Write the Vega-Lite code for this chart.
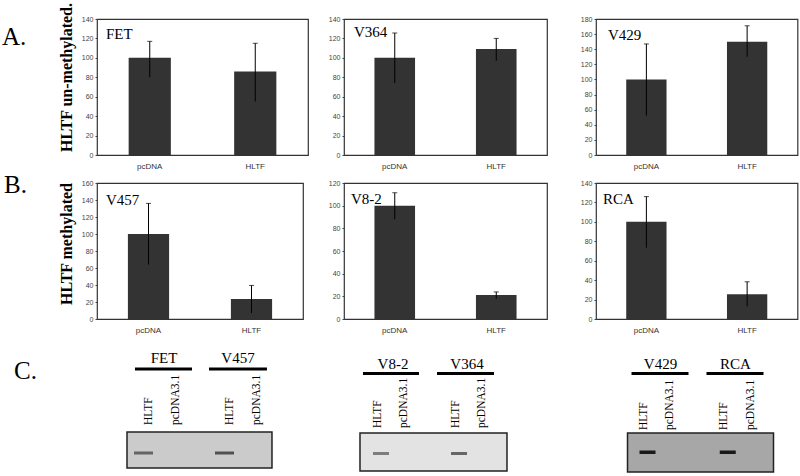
{
  "$schema": "https://vega.github.io/schema/vega-lite/v6.json",
  "padding": {"left": 0, "top": 1, "right": 0, "bottom": 0},
  "background": "white",
  "config": {
    "view": {"stroke": "#333", "strokeWidth": 1.2},
    "font": "Liberation Sans",
    "axis": {"labelOverlap": false}
  },
  "datasets": {
    "bars": [
      {"cell": "FET", "construct": "pcDNA", "mean": 100, "lo": 80, "hi": 117},
      {"cell": "FET", "construct": "HLTF", "mean": 86, "lo": 55, "hi": 115},
      {"cell": "V364", "construct": "pcDNA", "mean": 100, "lo": 74, "hi": 125.6},
      {"cell": "V364", "construct": "HLTF", "mean": 109, "lo": 97, "hi": 120},
      {"cell": "V429", "construct": "pcDNA", "mean": 100, "lo": 52, "hi": 147},
      {"cell": "V429", "construct": "HLTF", "mean": 150, "lo": 130, "hi": 171},
      {"cell": "V457", "construct": "pcDNA", "mean": 100, "lo": 64, "hi": 136},
      {"cell": "V457", "construct": "HLTF", "mean": 23.6, "lo": 7, "hi": 39.5},
      {"cell": "V8-2", "construct": "pcDNA", "mean": 100, "lo": 88, "hi": 111.4},
      {"cell": "V8-2", "construct": "HLTF", "mean": 21.2, "lo": 17.7, "hi": 23.9},
      {"cell": "RCA", "construct": "pcDNA", "mean": 100, "lo": 73.4, "hi": 126},
      {"cell": "RCA", "construct": "HLTF", "mean": 25.5, "lo": 13, "hi": 38.3}
    ],
    "blank": [{}],
    "blots": [{"blot": 1}, {"blot": 2}, {"blot": 3}],
    "lanes": [
      {"blot": 1, "lane": 1, "construct": "HLTF", "intensity": 0.5},
      {"blot": 1, "lane": 2, "construct": "pcDNA3.1", "intensity": 0},
      {"blot": 1, "lane": 4, "construct": "HLTF", "intensity": 0.6},
      {"blot": 1, "lane": 5, "construct": "pcDNA3.1", "intensity": 0},
      {"blot": 2, "lane": 1, "construct": "HLTF", "intensity": 0.45},
      {"blot": 2, "lane": 2, "construct": "pcDNA3.1", "intensity": 0},
      {"blot": 2, "lane": 4, "construct": "HLTF", "intensity": 0.55},
      {"blot": 2, "lane": 5, "construct": "pcDNA3.1", "intensity": 0},
      {"blot": 3, "lane": 1, "construct": "HLTF", "intensity": 0.85},
      {"blot": 3, "lane": 2, "construct": "pcDNA3.1", "intensity": 0},
      {"blot": 3, "lane": 4, "construct": "HLTF", "intensity": 0.85},
      {"blot": 3, "lane": 5, "construct": "pcDNA3.1", "intensity": 0}
    ],
    "cells": [
      {"blot": 1, "cell": "FET", "start": 0.481, "end": 2.593},
      {"blot": 1, "cell": "V457", "start": 3.222, "end": 5.37},
      {"blot": 2, "cell": "V8-2", "start": 0.423, "end": 2.577},
      {"blot": 2, "cell": "V364", "start": 3.27, "end": 5.462},
      {"blot": 3, "cell": "V429", "start": 0.552, "end": 2.682},
      {"blot": 3, "cell": "RCA", "start": 3.355, "end": 5.486}
    ]
  },
  "columns": 6,
  "bounds": "flush",
  "spacing": {"row": 28, "column": 0},
  "concat": [
    {
      "width": 97, "height": 136, "view": {"stroke": null},
      "title": {"text": "A.", "anchor": "start", "frame": "group", "offset": -50.5, "dx": 2, "baseline": "alphabetic", "font": "Liberation Serif", "fontSize": 25, "fontWeight": "normal", "color": "#000"},
      "data": {"name": "blank"}, "mark": {"type": "text", "text": ""}
    },
    {
      "width": 211, "height": 136,
      "title": {"text": "FET", "anchor": "start", "frame": "group", "offset": -51.5, "dx": 9, "baseline": "alphabetic", "font": "Liberation Serif", "fontSize": 15, "fontWeight": "normal", "color": "#000"},
      "data": {"name": "bars"},
      "transform": [{"filter": "datum.cell === 'FET'"}],
      "encoding": {"x": {"field": "construct", "type": "nominal", "sort": ["pcDNA", "HLTF"], "scale": {"paddingInner": 0.6, "paddingOuter": 0.3}, "axis": {"title": null, "labelAngle": 0, "ticks": false, "domain": false, "labelPadding": 7, "labelFontSize": 8, "labelColor": "#333", "labelFont": "Liberation Sans"}}},
      "layer": [
        {"mark": {"type": "bar", "color": "#333"}, "encoding": {"y": {"field": "mean", "type": "quantitative", "title": "HLTF un-methylated.", "scale": {"domain": [0, 140], "nice": false}, "axis": {"grid": false, "domain": false, "values": [0, 20, 40, 60, 80, 100, 120, 140], "tickCount": 20, "labelOverlap": false, "tickSize": 2, "tickColor": "#444", "labelPadding": 2, "labelFontSize": 7, "labelColor": "#444", "labelFont": "Liberation Sans", "minExtent": 16, "maxExtent": 16, "titlePadding": 6.5, "titleFont": "Liberation Serif", "titleFontSize": 16, "titleFontWeight": "bold", "titleColor": "#000", "titleY": 58}}}},
        {"mark": {"type": "rule", "color": "#000", "strokeWidth": 1}, "encoding": {"y": {"field": "lo", "type": "quantitative", "title": "HLTF un-methylated."}, "y2": {"field": "hi"}}},
        {"mark": {"type": "tick", "color": "#000", "thickness": 1, "size": 5}, "encoding": {"y": {"field": "hi", "type": "quantitative", "title": "HLTF un-methylated."}}}
      ]
    },
    {"width": 36, "height": 136, "view": {"stroke": null}, "data": {"name": "blank"}, "mark": {"type": "text", "text": ""}},
    {
      "width": 203, "height": 136,
      "title": {"text": "V364", "anchor": "start", "frame": "group", "offset": -37, "dx": 10, "baseline": "alphabetic", "font": "Liberation Serif", "fontSize": 15, "fontWeight": "normal", "color": "#000"},
      "data": {"name": "bars"},
      "transform": [{"filter": "datum.cell === 'V364'"}],
      "encoding": {"x": {"field": "construct", "type": "nominal", "sort": ["pcDNA", "HLTF"], "scale": {"paddingInner": 0.6, "paddingOuter": 0.3}, "axis": {"title": null, "labelAngle": 0, "ticks": false, "domain": false, "labelPadding": 7, "labelFontSize": 8, "labelColor": "#333", "labelFont": "Liberation Sans"}}},
      "layer": [
        {"mark": {"type": "bar", "color": "#333"}, "encoding": {"y": {"field": "mean", "type": "quantitative", "title": null, "scale": {"domain": [0, 140], "nice": false}, "axis": {"grid": false, "domain": false, "values": [0, 20, 40, 60, 80, 100, 120, 140], "tickCount": 20, "labelOverlap": false, "tickSize": 2, "tickColor": "#444", "labelPadding": 2, "labelFontSize": 7, "labelColor": "#444", "labelFont": "Liberation Sans"}}}},
        {"mark": {"type": "rule", "color": "#000", "strokeWidth": 1}, "encoding": {"y": {"field": "lo", "type": "quantitative", "title": null}, "y2": {"field": "hi"}}},
        {"mark": {"type": "tick", "color": "#000", "thickness": 1, "size": 5}, "encoding": {"y": {"field": "hi", "type": "quantitative", "title": null}}}
      ]
    },
    {"width": 48.5, "height": 136, "view": {"stroke": null}, "data": {"name": "blank"}, "mark": {"type": "text", "text": ""}},
    {
      "width": 201.5, "height": 136,
      "title": {"text": "V429", "anchor": "start", "frame": "group", "offset": -40, "dx": 12, "baseline": "alphabetic", "font": "Liberation Serif", "fontSize": 15, "fontWeight": "normal", "color": "#000"},
      "data": {"name": "bars"},
      "transform": [{"filter": "datum.cell === 'V429'"}],
      "encoding": {"x": {"field": "construct", "type": "nominal", "sort": ["pcDNA", "HLTF"], "scale": {"paddingInner": 0.6, "paddingOuter": 0.3}, "axis": {"title": null, "labelAngle": 0, "ticks": false, "domain": false, "labelPadding": 7, "labelFontSize": 8, "labelColor": "#333", "labelFont": "Liberation Sans"}}},
      "layer": [
        {"mark": {"type": "bar", "color": "#333"}, "encoding": {"y": {"field": "mean", "type": "quantitative", "title": null, "scale": {"domain": [0, 180], "nice": false}, "axis": {"grid": false, "domain": false, "values": [0, 20, 40, 60, 80, 100, 120, 140, 160, 180], "tickCount": 20, "labelOverlap": false, "tickSize": 2, "tickColor": "#444", "labelPadding": 2, "labelFontSize": 7, "labelColor": "#444", "labelFont": "Liberation Sans"}}}},
        {"mark": {"type": "rule", "color": "#000", "strokeWidth": 1}, "encoding": {"y": {"field": "lo", "type": "quantitative", "title": null}, "y2": {"field": "hi"}}},
        {"mark": {"type": "tick", "color": "#000", "thickness": 1, "size": 5}, "encoding": {"y": {"field": "hi", "type": "quantitative", "title": null}}}
      ]
    },
    {
      "width": 97, "height": 136, "view": {"stroke": null},
      "title": {"text": "B.", "anchor": "start", "frame": "group", "offset": -35, "dx": 4, "baseline": "alphabetic", "font": "Liberation Serif", "fontSize": 25, "fontWeight": "normal", "color": "#000"},
      "data": {"name": "blank"}, "mark": {"type": "text", "text": ""}
    },
    {
      "width": 206, "height": 136,
      "title": {"text": "V457", "anchor": "start", "frame": "group", "offset": -40.5, "dx": 9, "baseline": "alphabetic", "font": "Liberation Serif", "fontSize": 15, "fontWeight": "normal", "color": "#000"},
      "data": {"name": "bars"},
      "transform": [{"filter": "datum.cell === 'V457'"}],
      "encoding": {"x": {"field": "construct", "type": "nominal", "sort": ["pcDNA", "HLTF"], "scale": {"paddingInner": 0.6, "paddingOuter": 0.3}, "axis": {"title": null, "labelAngle": 0, "ticks": false, "domain": false, "labelPadding": 7, "labelFontSize": 8, "labelColor": "#333", "labelFont": "Liberation Sans"}}},
      "layer": [
        {"mark": {"type": "bar", "color": "#333"}, "encoding": {"y": {"field": "mean", "type": "quantitative", "title": "HLTF methylated", "scale": {"domain": [0, 160], "nice": false}, "axis": {"grid": false, "domain": false, "values": [0, 20, 40, 60, 80, 100, 120, 140, 160], "tickCount": 20, "labelOverlap": false, "tickSize": 2, "tickColor": "#444", "labelPadding": 2, "labelFontSize": 7, "labelColor": "#444", "labelFont": "Liberation Sans", "minExtent": 16, "maxExtent": 16, "titlePadding": 6.5, "titleFont": "Liberation Serif", "titleFontSize": 16, "titleFontWeight": "bold", "titleColor": "#000", "titleY": 60.5}}}},
        {"mark": {"type": "rule", "color": "#000", "strokeWidth": 1}, "encoding": {"y": {"field": "lo", "type": "quantitative", "title": "HLTF methylated"}, "y2": {"field": "hi"}}},
        {"mark": {"type": "tick", "color": "#000", "thickness": 1, "size": 5}, "encoding": {"y": {"field": "hi", "type": "quantitative", "title": "HLTF methylated"}}}
      ]
    },
    {"width": 36, "height": 136, "view": {"stroke": null}, "data": {"name": "blank"}, "mark": {"type": "text", "text": ""}},
    {
      "width": 203, "height": 136,
      "title": {"text": "V8-2", "anchor": "start", "frame": "group", "offset": -40, "dx": 7, "baseline": "alphabetic", "font": "Liberation Serif", "fontSize": 15, "fontWeight": "normal", "color": "#000"},
      "data": {"name": "bars"},
      "transform": [{"filter": "datum.cell === 'V8-2'"}],
      "encoding": {"x": {"field": "construct", "type": "nominal", "sort": ["pcDNA", "HLTF"], "scale": {"paddingInner": 0.6, "paddingOuter": 0.3}, "axis": {"title": null, "labelAngle": 0, "ticks": false, "domain": false, "labelPadding": 7, "labelFontSize": 8, "labelColor": "#333", "labelFont": "Liberation Sans"}}},
      "layer": [
        {"mark": {"type": "bar", "color": "#333"}, "encoding": {"y": {"field": "mean", "type": "quantitative", "title": null, "scale": {"domain": [0, 120], "nice": false}, "axis": {"grid": false, "domain": false, "values": [0, 20, 40, 60, 80, 100, 120], "tickCount": 20, "labelOverlap": false, "tickSize": 2, "tickColor": "#444", "labelPadding": 2, "labelFontSize": 7, "labelColor": "#444", "labelFont": "Liberation Sans"}}}},
        {"mark": {"type": "rule", "color": "#000", "strokeWidth": 1}, "encoding": {"y": {"field": "lo", "type": "quantitative", "title": null}, "y2": {"field": "hi"}}},
        {"mark": {"type": "tick", "color": "#000", "thickness": 1, "size": 5}, "encoding": {"y": {"field": "hi", "type": "quantitative", "title": null}}}
      ]
    },
    {"width": 48.5, "height": 136, "view": {"stroke": null}, "data": {"name": "blank"}, "mark": {"type": "text", "text": ""}},
    {
      "width": 201.5, "height": 136,
      "title": {"text": "RCA", "anchor": "start", "frame": "group", "offset": -39.5, "dx": 7, "baseline": "alphabetic", "font": "Liberation Serif", "fontSize": 15, "fontWeight": "normal", "color": "#000"},
      "data": {"name": "bars"},
      "transform": [{"filter": "datum.cell === 'RCA'"}],
      "encoding": {"x": {"field": "construct", "type": "nominal", "sort": ["pcDNA", "HLTF"], "scale": {"paddingInner": 0.6, "paddingOuter": 0.3}, "axis": {"title": null, "labelAngle": 0, "ticks": false, "domain": false, "labelPadding": 7, "labelFontSize": 8, "labelColor": "#333", "labelFont": "Liberation Sans"}}},
      "layer": [
        {"mark": {"type": "bar", "color": "#333"}, "encoding": {"y": {"field": "mean", "type": "quantitative", "title": null, "scale": {"domain": [0, 140], "nice": false}, "axis": {"grid": false, "domain": false, "values": [0, 20, 40, 60, 80, 100, 120, 140], "tickCount": 20, "labelOverlap": false, "tickSize": 2, "tickColor": "#444", "labelPadding": 2, "labelFontSize": 7, "labelColor": "#444", "labelFont": "Liberation Sans"}}}},
        {"mark": {"type": "rule", "color": "#000", "strokeWidth": 1}, "encoding": {"y": {"field": "lo", "type": "quantitative", "title": null}, "y2": {"field": "hi"}}},
        {"mark": {"type": "tick", "color": "#000", "thickness": 1, "size": 5}, "encoding": {"y": {"field": "hi", "type": "quantitative", "title": null}}}
      ]
    },
    {
      "width": 97, "height": 130, "view": {"stroke": null},
      "title": {"text": "C.", "anchor": "start", "frame": "group", "offset": -56.5, "dx": 14, "baseline": "alphabetic", "font": "Liberation Serif", "fontSize": 25, "fontWeight": "normal", "color": "#000"},
      "data": {"name": "blank"}, "mark": {"type": "text", "text": ""}
    },
    {
      "width": 211, "height": 130,
      "view": {"stroke": null},
      "layer": [
        {"data": {"name": "blots"}, "transform": [{"filter": "datum.blot === 1"}],
         "mark": {"type": "rect", "stroke": "#222", "strokeWidth": 1.5},
         "encoding": {
           "x": {"datum": 0.185, "type": "quantitative", "scale": {"domain": [-0.926, 6.889], "nice": false, "zero": false}, "axis": null},
           "x2": {"datum": 5.555},
           "y": {"datum": 87, "type": "quantitative", "scale": {"domain": [2, 132], "reverse": true, "nice": false, "zero": false}, "axis": null},
           "y2": {"datum": 123},
           "fill": {"field": "blot", "type": "nominal", "scale": {"domain": [1, 2, 3], "range": ["#cbcbcb", "#e3e3e3", "#a7a7a7"]}, "legend": null}
         }},
        {"data": {"name": "lanes"}, "transform": [{"filter": "datum.blot === 1 && datum.intensity > 0"}],
         "mark": {"type": "rect", "fill": "#000", "xOffset": -15, "x2Offset": 4},
         "encoding": {
           "x": {"field": "lane", "type": "quantitative", "scale": {"domain": [-0.926, 6.889], "nice": false, "zero": false}, "axis": null},
           "x2": {"field": "lane"},
           "y": {"datum": 106.5, "type": "quantitative", "scale": {"domain": [2, 132], "reverse": true, "nice": false, "zero": false}, "axis": null},
           "y2": {"datum": 109.5},
           "opacity": {"field": "intensity", "type": "quantitative", "scale": {"domain": [0, 1], "range": [0, 1]}, "legend": null}
         }},
        {"data": {"name": "lanes"}, "transform": [{"filter": "datum.blot === 1"}],
         "mark": {"type": "text", "angle": 270, "align": "left", "baseline": "middle", "font": "Liberation Serif", "fontSize": 11.5, "color": "#000"},
         "encoding": {
           "x": {"field": "lane", "type": "quantitative", "scale": {"domain": [-0.926, 6.889], "nice": false, "zero": false}, "axis": null},
           "y": {"datum": 80, "type": "quantitative", "scale": {"domain": [2, 132], "reverse": true, "nice": false, "zero": false}, "axis": null},
           "text": {"field": "construct"}
         }},
        {"data": {"name": "cells"}, "transform": [{"filter": "datum.blot === 1"}],
         "mark": {"type": "rule", "color": "#000", "strokeWidth": 3},
         "encoding": {
           "x": {"field": "start", "type": "quantitative", "scale": {"domain": [-0.926, 6.889], "nice": false, "zero": false}, "axis": null},
           "x2": {"field": "end"},
           "y": {"datum": 24, "type": "quantitative", "scale": {"domain": [2, 132], "reverse": true, "nice": false, "zero": false}, "axis": null}
         }},
        {"data": {"name": "cells"}, "transform": [{"filter": "datum.blot === 1"}],
         "mark": {"type": "text", "align": "center", "baseline": "alphabetic", "xOffset": 29, "font": "Liberation Serif", "fontSize": 15, "color": "#000"},
         "encoding": {
           "x": {"field": "start", "type": "quantitative", "scale": {"domain": [-0.926, 6.889], "nice": false, "zero": false}, "axis": null},
           "y": {"datum": 18, "type": "quantitative", "scale": {"domain": [2, 132], "reverse": true, "nice": false, "zero": false}, "axis": null},
           "text": {"field": "cell"}
         }}
      ]
    },
    {"width": 36, "height": 130, "view": {"stroke": null}, "data": {"name": "blank"}, "mark": {"type": "text", "text": ""}},
    {
      "width": 203, "height": 130,
      "view": {"stroke": null},
      "layer": [
        {"data": {"name": "blots"}, "transform": [{"filter": "datum.blot === 2"}],
         "mark": {"type": "rect", "stroke": "#222", "strokeWidth": 1.5},
         "encoding": {
           "x": {"datum": 0.308, "type": "quantitative", "scale": {"domain": [-0.307, 7.501], "nice": false, "zero": false}, "axis": null},
           "x2": {"datum": 5.962},
           "y": {"datum": 88, "type": "quantitative", "scale": {"domain": [2, 132], "reverse": true, "nice": false, "zero": false}, "axis": null},
           "y2": {"datum": 126},
           "fill": {"field": "blot", "type": "nominal", "scale": {"domain": [1, 2, 3], "range": ["#cbcbcb", "#e3e3e3", "#a7a7a7"]}, "legend": null}
         }},
        {"data": {"name": "lanes"}, "transform": [{"filter": "datum.blot === 2 && datum.intensity > 0"}],
         "mark": {"type": "rect", "fill": "#000", "xOffset": -5, "x2Offset": 11},
         "encoding": {
           "x": {"field": "lane", "type": "quantitative", "scale": {"domain": [-0.307, 7.501], "nice": false, "zero": false}, "axis": null},
           "x2": {"field": "lane"},
           "y": {"datum": 107, "type": "quantitative", "scale": {"domain": [2, 132], "reverse": true, "nice": false, "zero": false}, "axis": null},
           "y2": {"datum": 110},
           "opacity": {"field": "intensity", "type": "quantitative", "scale": {"domain": [0, 1], "range": [0, 1]}, "legend": null}
         }},
        {"data": {"name": "lanes"}, "transform": [{"filter": "datum.blot === 2"}],
         "mark": {"type": "text", "angle": 270, "align": "left", "baseline": "middle", "font": "Liberation Serif", "fontSize": 11.5, "color": "#000"},
         "encoding": {
           "x": {"field": "lane", "type": "quantitative", "scale": {"domain": [-0.307, 7.501], "nice": false, "zero": false}, "axis": null},
           "y": {"datum": 83, "type": "quantitative", "scale": {"domain": [2, 132], "reverse": true, "nice": false, "zero": false}, "axis": null},
           "text": {"field": "construct"}
         }},
        {"data": {"name": "cells"}, "transform": [{"filter": "datum.blot === 2"}],
         "mark": {"type": "rule", "color": "#000", "strokeWidth": 3},
         "encoding": {
           "x": {"field": "start", "type": "quantitative", "scale": {"domain": [-0.307, 7.501], "nice": false, "zero": false}, "axis": null},
           "x2": {"field": "end"},
           "y": {"datum": 28.5, "type": "quantitative", "scale": {"domain": [2, 132], "reverse": true, "nice": false, "zero": false}, "axis": null}
         }},
        {"data": {"name": "cells"}, "transform": [{"filter": "datum.blot === 2"}],
         "mark": {"type": "text", "align": "center", "baseline": "alphabetic", "xOffset": 30, "font": "Liberation Serif", "fontSize": 15, "color": "#000"},
         "encoding": {
           "x": {"field": "start", "type": "quantitative", "scale": {"domain": [-0.307, 7.501], "nice": false, "zero": false}, "axis": null},
           "y": {"datum": 24, "type": "quantitative", "scale": {"domain": [2, 132], "reverse": true, "nice": false, "zero": false}, "axis": null},
           "text": {"field": "cell"}
         }}
      ]
    },
    {"width": 48.5, "height": 130, "view": {"stroke": null}, "data": {"name": "blank"}, "mark": {"type": "text", "text": ""}},
    {
      "width": 201.5, "height": 130,
      "view": {"stroke": null},
      "layer": [
        {"data": {"name": "blots"}, "transform": [{"filter": "datum.blot === 3"}],
         "mark": {"type": "rect", "stroke": "#222", "strokeWidth": 1.5},
         "encoding": {
           "x": {"datum": 0.402, "type": "quantitative", "scale": {"domain": [-0.776, 6.757], "nice": false, "zero": false}, "axis": null},
           "x2": {"datum": 5.86},
           "y": {"datum": 88, "type": "quantitative", "scale": {"domain": [2, 132], "reverse": true, "nice": false, "zero": false}, "axis": null},
           "y2": {"datum": 127},
           "fill": {"field": "blot", "type": "nominal", "scale": {"domain": [1, 2, 3], "range": ["#cbcbcb", "#e3e3e3", "#a7a7a7"]}, "legend": null}
         }},
        {"data": {"name": "lanes"}, "transform": [{"filter": "datum.blot === 3 && datum.intensity > 0"}],
         "mark": {"type": "rect", "fill": "#000", "xOffset": -4, "x2Offset": 12},
         "encoding": {
           "x": {"field": "lane", "type": "quantitative", "scale": {"domain": [-0.776, 6.757], "nice": false, "zero": false}, "axis": null},
           "x2": {"field": "lane"},
           "y": {"datum": 105.5, "type": "quantitative", "scale": {"domain": [2, 132], "reverse": true, "nice": false, "zero": false}, "axis": null},
           "y2": {"datum": 109},
           "opacity": {"field": "intensity", "type": "quantitative", "scale": {"domain": [0, 1], "range": [0, 1]}, "legend": null}
         }},
        {"data": {"name": "lanes"}, "transform": [{"filter": "datum.blot === 3"}],
         "mark": {"type": "text", "angle": 270, "align": "left", "baseline": "middle", "font": "Liberation Serif", "fontSize": 11.5, "color": "#000"},
         "encoding": {
           "x": {"field": "lane", "type": "quantitative", "scale": {"domain": [-0.776, 6.757], "nice": false, "zero": false}, "axis": null},
           "y": {"datum": 85, "type": "quantitative", "scale": {"domain": [2, 132], "reverse": true, "nice": false, "zero": false}, "axis": null},
           "text": {"field": "construct"}
         }},
        {"data": {"name": "cells"}, "transform": [{"filter": "datum.blot === 3"}],
         "mark": {"type": "rule", "color": "#000", "strokeWidth": 3},
         "encoding": {
           "x": {"field": "start", "type": "quantitative", "scale": {"domain": [-0.776, 6.757], "nice": false, "zero": false}, "axis": null},
           "x2": {"field": "end"},
           "y": {"datum": 28.5, "type": "quantitative", "scale": {"domain": [2, 132], "reverse": true, "nice": false, "zero": false}, "axis": null}
         }},
        {"data": {"name": "cells"}, "transform": [{"filter": "datum.blot === 3"}],
         "mark": {"type": "text", "align": "center", "baseline": "alphabetic", "xOffset": 29, "font": "Liberation Serif", "fontSize": 15, "color": "#000"},
         "encoding": {
           "x": {"field": "start", "type": "quantitative", "scale": {"domain": [-0.776, 6.757], "nice": false, "zero": false}, "axis": null},
           "y": {"datum": 24, "type": "quantitative", "scale": {"domain": [2, 132], "reverse": true, "nice": false, "zero": false}, "axis": null},
           "text": {"field": "cell"}
         }}
      ]
    }
  ]
}
